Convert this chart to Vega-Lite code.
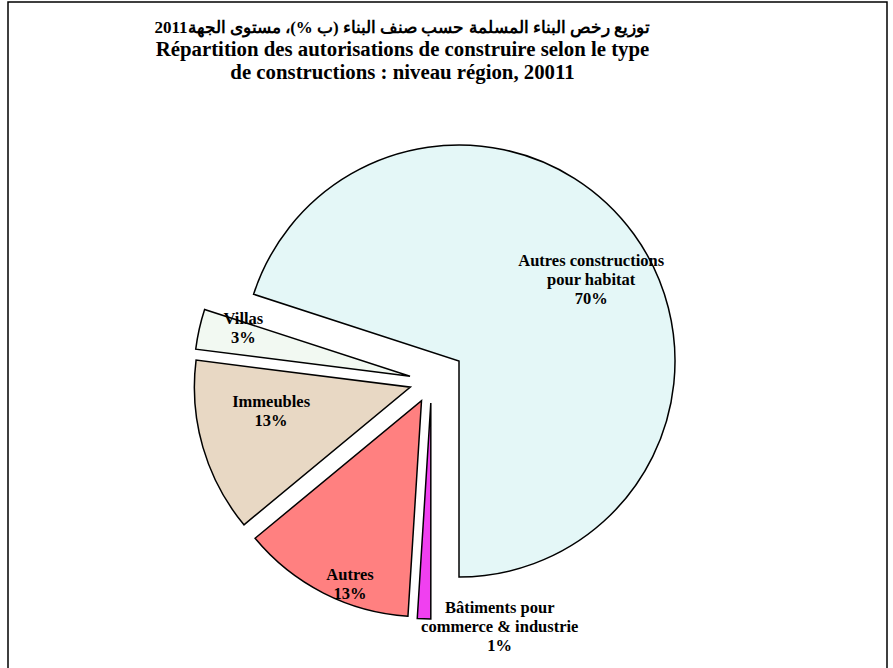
{
  "$schema": "https://vega.github.io/schema/vega-lite/v6.json",
  "width": 879,
  "height": 668,
  "autosize": {"type": "none"},
  "padding": {"left": 8, "top": 2, "right": 6, "bottom": 0},
  "background": "white",
  "view": {"stroke": "#000000", "strokeWidth": 1.5},
  "config": {"view": {"stroke": "#000000", "strokeWidth": 1.5}},
  "title": {
    "text": "توزيع رخص البناء المسلمة حسب صنف البناء (ب %)، مستوى الجهة2011",
    "subtitle": [
      "Répartition des autorisations de construire selon le type",
      "de constructions : niveau région, 20011"
    ],
    "font": "Liberation Serif",
    "fontSize": 17,
    "fontWeight": "bold",
    "color": "#000000",
    "subtitleFont": "Liberation Serif",
    "subtitleFontSize": 20.8,
    "subtitleFontWeight": "bold",
    "subtitleColor": "#000000",
    "subtitleLineHeight": 23,
    "subtitlePadding": 3,
    "anchor": "middle",
    "frame": "group",
    "orient": "top",
    "offset": -82,
    "dx": -45
  },
  "data": {
    "values": [
      {"k": 0, "type": "Autres constructions pour habitat", "share": 70, "label": "Autres constructions\npour habitat\n70%"},
      {"k": 1, "type": "Bâtiments pour commerce & industrie", "share": 1, "label": "Bâtiments pour\ncommerce & industrie\n1%"},
      {"k": 2, "type": "Autres", "share": 13, "label": "Autres\n13%"},
      {"k": 3, "type": "Immeubles", "share": 13, "label": "Immeubles\n13%"},
      {"k": 4, "type": "Villas", "share": 3, "label": "Villas\n3%"}
    ]
  },
  "encoding": {
    "theta": {"field": "share", "type": "quantitative", "stack": true, "scale": {"range": [5.0265482, 11.3097336]}},
    "order": {"field": "k", "type": "quantitative"}
  },
  "layer": [
    {
      "mark": {
        "type": "arc",
        "outerRadius": 216,
        "stroke": "#000000",
        "strokeWidth": 1.5,
        "x": {"expr": "width/2 - 16 + (datum.k == 0 ? 34 : 22) * sin(scale('theta', (datum.share_start + datum.share_end) / 2))"},
        "y": {"expr": "height/2 + 45 - (datum.k == 0 ? 34 : 22) * cos(scale('theta', (datum.share_start + datum.share_end) / 2))"}
      },
      "encoding": {
        "color": {
          "field": "type",
          "type": "nominal",
          "scale": {
            "domain": ["Autres constructions pour habitat", "Bâtiments pour commerce & industrie", "Autres", "Immeubles", "Villas"],
            "range": ["#E4F7F7", "#F040F0", "#FF8080", "#E8D8C4", "#F2F9F2"]
          },
          "legend": null
        }
      }
    },
    {
      "mark": {
        "type": "text",
        "font": "Liberation Serif",
        "fontSize": 16.5,
        "fontWeight": "bold",
        "color": "#000000",
        "lineBreak": "\n",
        "lineHeight": 19,
        "align": "center",
        "baseline": "middle",
        "x": {"expr": "width/2 - 16 + (datum.k == 0 ? 34 : 22) * sin(scale('theta', (datum.share_start + datum.share_end) / 2))"},
        "y": {"expr": "height/2 + 45 - (datum.k == 0 ? 34 : 22) * cos(scale('theta', (datum.share_start + datum.share_end) / 2))"},
        "dy": {"expr": "datum.k == 0 ? -19 : datum.k == 1 ? -17 : -7"},
        "radius": {"expr": "datum.k == 0 ? 155 : datum.k == 1 ? 232 : datum.k == 2 ? 195 : datum.k == 3 ? 141 : 174"},
        "thetaOffset": {"expr": "datum.k == 0 ? 0.0785 : datum.k == 1 ? -0.333 : datum.k == 2 ? -0.096 : datum.k == 3 ? 0.126 : 0.0716"}
      },
      "encoding": {
        "text": {"field": "label", "type": "nominal"}
      }
    }
  ]
}
